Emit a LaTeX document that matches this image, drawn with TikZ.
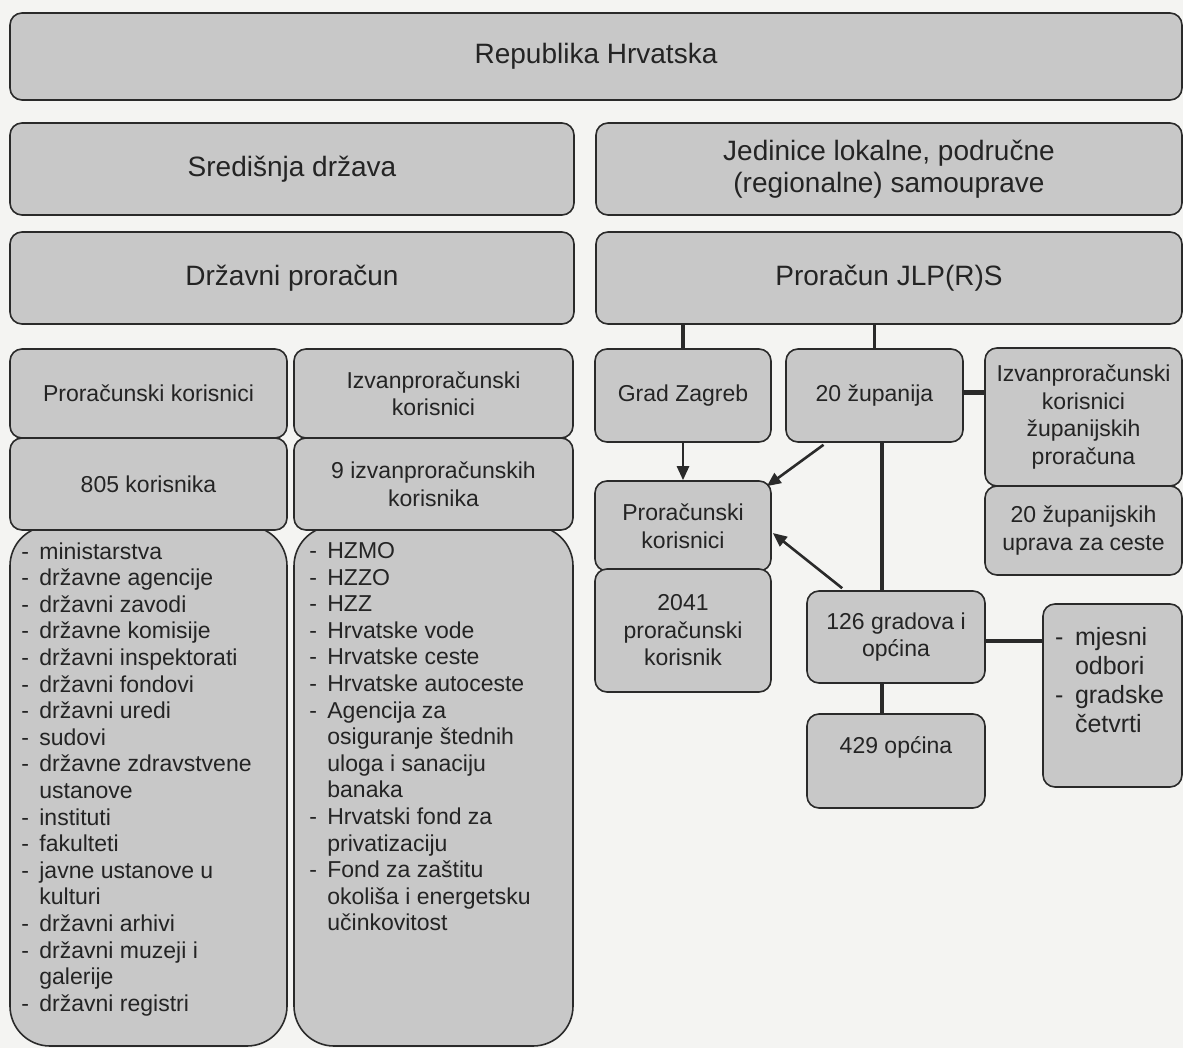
\documentclass[tikz,border=0pt]{standalone}
\usepackage{fontspec}
\setmainfont{Liberation Sans}
\usetikzlibrary{calc}
\usetikzlibrary{arrows.meta}

\definecolor{pozadina}{RGB}{244,244,242}
\definecolor{siva}{RGB}{200,200,200}
\definecolor{rub}{RGB}{42,42,42}
\definecolor{tekst}{RGB}{36,36,36}

\newcommand{\crt}[1]{\makebox[18pt][l]{-}#1}
\newcommand{\nast}[1]{\hspace*{18pt}#1}

\begin{document}
\begin{tikzpicture}[
      x=1pt, y=-1pt,
      every node/.style={text=tekst, inner sep=0pt, align=center},
      okvir/.style={draw=rub, fill=siva, line width=1.6pt, rounded corners=12pt},
      velicina/.style 2 args={minimum width=#1pt, minimum height=#2pt},
      veliki/.style={font=\fontsize{28}{32}\selectfont},
      srednji/.style={font=\fontsize{23}{27.5}\selectfont},
      popis/.style={align=left, font=\fontsize{23}{26.6}\selectfont},
      veza/.style={draw=rub, line width=3.6pt},
      debela/.style={draw=rub, line width=4.8pt},
      strelica/.style={draw=rub, line width=2.6pt, -{Triangle[length=14pt,width=12pt]}}
    ]
    \fill[pozadina] (0,0) rectangle (1183,1048);
    \useasboundingbox (0,0) rectangle (1183,1048);

    % Republika
    \node[okvir, veliki, velicina={1172}{87}] (rh) at (596,56.5) {Republika Hrvatska};

    % Sredisnja drzava
    \node[okvir, veliki, velicina={564}{92}] (sd) at (292,169) {Središnja država};
    \node[okvir, veliki, velicina={564}{92}] (dp) at (292,278) {Državni proračun};
    \node[okvir, srednji, velicina={277}{89}] (pk) at (148.5,393.5) {Proračunski korisnici};
    \node[okvir, srednji, velicina={279}{89}] (ik) at (433.5,393.5) {Izvanproračunski\\korisnici};
    \node[okvir, rounded corners=40pt, velicina={277}{520}] (popL) at (148.5,786) {};
    \node[okvir, rounded corners=40pt, velicina={279}{520}] (popD) at (433.5,786) {};
    \node[okvir, srednji, velicina={277}{92}] (k805) at (148.5,484) {805 korisnika};
    \node[okvir, srednji, velicina={279}{92}] (k9) at (433.5,484) {9 izvanproračunskih\\korisnika};

    \node[popis, anchor=north west] (popLt) at ($(popL.north west)+(12,17)$) {%
      \crt{ministarstva}\\
      \crt{državne agencije}\\
      \crt{državni zavodi}\\
      \crt{državne komisije}\\
      \crt{državni inspektorati}\\
      \crt{državni fondovi}\\
      \crt{državni uredi}\\
      \crt{sudovi}\\
      \crt{državne zdravstvene}\\
      \nast{ustanove}\\
      \crt{instituti}\\
      \crt{fakulteti}\\
      \crt{javne ustanove u}\\
      \nast{kulturi}\\
      \crt{državni arhivi}\\
      \crt{državni muzeji i}\\
      \nast{galerije}\\
      \crt{državni registri}};
    \node[popis, anchor=north west] (popDt) at ($(popD.north west)+(16,17)$) {%
      \crt{HZMO}\\
      \crt{HZZO}\\
      \crt{HZZ}\\
      \crt{Hrvatske vode}\\
      \crt{Hrvatske ceste}\\
      \crt{Hrvatske autoceste}\\
      \crt{Agencija za}\\
      \nast{osiguranje štednih}\\
      \nast{uloga i sanaciju}\\
      \nast{banaka}\\
      \crt{Hrvatski fond za}\\
      \nast{privatizaciju}\\
      \crt{Fond za zaštitu}\\
      \nast{okoliša i energetsku}\\
      \nast{učinkovitost}};

    % Lokalna i podrucna samouprava
    \node[okvir, veliki, velicina={586}{92}] (jl) at (889,169) {Jedinice lokalne, područne\\(regionalne) samouprave};
    \node[okvir, veliki, velicina={586}{92}] (pj) at (889,278) {Proračun JLP(R)S};
    \node[okvir, srednji, velicina={176}{93}] (gz) at (683,395.5) {Grad Zagreb};
    \node[okvir, srednji, velicina={177}{93}] (zup) at (874.5,395.5) {20 županija};
    \node[okvir, srednji, velicina={197}{138}] (izz) at (1083.5,417) {Izvanproračunski\\korisnici\\županijskih\\proračuna};
    \node[okvir, srednji, velicina={197}{89}] (upr) at (1083.5,530.5) {20 županijskih\\uprava za ceste};
    \node[okvir, srednji, velicina={176}{90}] (pkr) at (683,526) {Proračunski\\korisnici};
    \node[okvir, srednji, velicina={176}{123}] (k2041) at (683,630.5) {2041\\proračunski\\korisnik};
    \node[okvir, srednji, velicina={178}{92}] (g126) at (896,637) {126 gradova i\\općina};
    \node[okvir, srednji, velicina={178}{94}, text depth=31pt] (o429) at (896,761) {429 općina};
    \node[okvir, velicina={139}{183}] (mo) at (1112.5,695.5) {};
    \node[popis, font=\fontsize{25}{29}\selectfont] (mot) at ($(mo.center)+(-3,-15)$) {%
      \makebox[20pt][l]{-}mjesni\\
      \hspace*{20pt}odbori\\
      \makebox[20pt][l]{-}gradske\\
      \hspace*{20pt}četvrti};

    % veze
    \draw[veza] (pj.south -| gz.north) -- (gz.north);
    \draw[veza] (pj.south -| zup.north) -- (zup.north);
    \draw[debela] ($(zup.east)+(0,-3)$) -- ($(izz.west |- zup.east)+(0,-3)$);
    \draw[strelica] (gz.south) -- (pkr.north);
    \draw[strelica] ($(zup.south)+(-51,2)$) -- ($(pkr.north east)+(-5,6)$);
    \draw[veza] ($(zup.south)+(7.5,0)$) -- ($(g126.north)+(-14,0)$);
    \draw[veza] ($(g126.south)+(-14,0)$) -- ($(o429.north)+(-14,0)$);
    \draw[strelica] ($(g126.north west)+(36,-2)$) -- ($(pkr.east)+(1,7)$);
    \draw[debela] ($(g126.east)+(0,4)$) -- ($(g126.east -| mo.west)+(0,4)$);
  \end{tikzpicture}
\end{document}
